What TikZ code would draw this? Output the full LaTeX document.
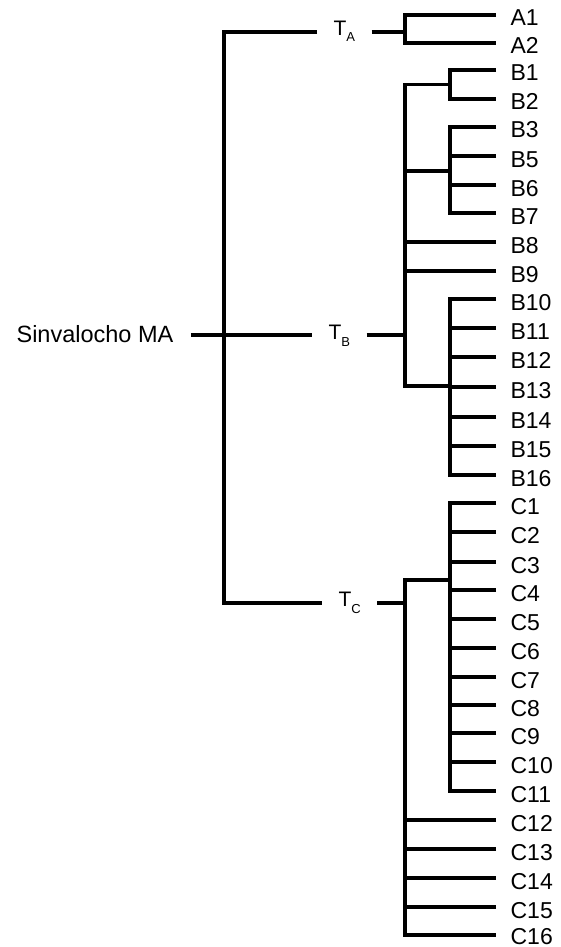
\documentclass[tikz,border=0pt]{standalone}
\usepackage{fontspec}
\setmainfont{Liberation Sans}
\newcommand{\tsub}[1]{T\raisebox{-6.5pt}{\fontsize{13}{13}\selectfont #1}}
\begin{document}
\begin{tikzpicture}[x=1pt, y=-1pt, line width=3.2pt,
  leaf/.style={anchor=base west, inner sep=0pt, font=\fontsize{23}{23}\selectfont},
  tlabel/.style={anchor=base west, inner ysep=0pt, inner xsep=15pt, font=\fontsize{21}{21}\selectfont},
  rootlabel/.style={anchor=base west, inner ysep=0pt, inner xsep=16pt, font=\fontsize{23.5}{23.5}\selectfont}]
\useasboundingbox (0,0) rectangle (561,947);

% leaves: line end and label (the last label sits a little higher to stay on the page)
\foreach \n/\y/\d in {A1/15/11, A2/43/11, B1/70/11, B2/99/11, B3/127/11, B5/156/11,
                   B6/185/11, B7/213/11, B8/242/11, B9/271/11, B10/299/11, B11/328/11,
                   B12/357/11, B13/387/11, B14/417/11, B15/446/11, B16/475/11,
                   C1/503/11, C2/532/11, C3/562/11, C4/590/11, C5/619/11, C6/648/11,
                   C7/677/11, C8/705/11, C9/733/11, C10/762/11, C11/791/11,
                   C12/820/11, C13/849/11, C14/878/11, C15/907/11, C16/935/9} {
  \coordinate (\n e) at (496,\y);
  \node[leaf] (\n) at (509,\y+\d) {\n};
}

% root and the three groups
\node[rootlabel] (root) at (-1,342) {Sinvalocho MA};
\node[tlabel] (TA) at (317,35.5) {\tsub{A}};
\node[tlabel] (TB) at (312,339.5) {\tsub{B}};
\node[tlabel] (TC) at (322,606.5) {\tsub{C}};

% junction points
\coordinate (sA) at (224,32);
\coordinate (sB) at (224,335);
\coordinate (sC) at (224,603);
\coordinate (jA) at (405,32);
\coordinate (jB) at (405,335);
\coordinate (jC) at (405,603);
\coordinate (vB) at (405,0);
\coordinate (vS) at (450,0);

% main spine
\draw (TA.west |- sA) -| (sC) -- (TC.west |- sC);
\draw (root.east |- sB) -- (sB) -- (TB.west |- sB);

% group A
\draw (A1e) -| (405,43) -- (A2e);
\draw (TA.east |- jA) -- (jA);

% group B
\draw (B1e) -| (450,99) -- (B2e);
\draw (B3e) -| (450,213) -- (B7e);
\foreach \n in {B5,B6} \draw (\n e) -- (\n e -| vS);
\draw (B10e) -| (450,475) -- (B16e);
\foreach \n in {B11,B12,B13,B14,B15} \draw (\n e) -- (\n e -| vS);
\draw (450,84.5) -| (405,386) -- (450,386);
\draw (405,171) -- (450,171);
\foreach \n in {B8,B9} \draw (\n e) -- (\n e -| vB);
\draw (TB.east |- jB) -- (jB);

% group C
\draw (C1e) -| (450,791) -- (C11e);
\foreach \n in {C2,C3,C4,C5,C6,C7,C8,C9,C10} \draw (\n e) -- (\n e -| vS);
\draw (450,580) -| (405,935) -- (C16e);
\foreach \n in {C12,C13,C14,C15} \draw (\n e) -- (\n e -| vB);
\draw (TC.east |- jC) -- (jC);
\end{tikzpicture}
\end{document}
